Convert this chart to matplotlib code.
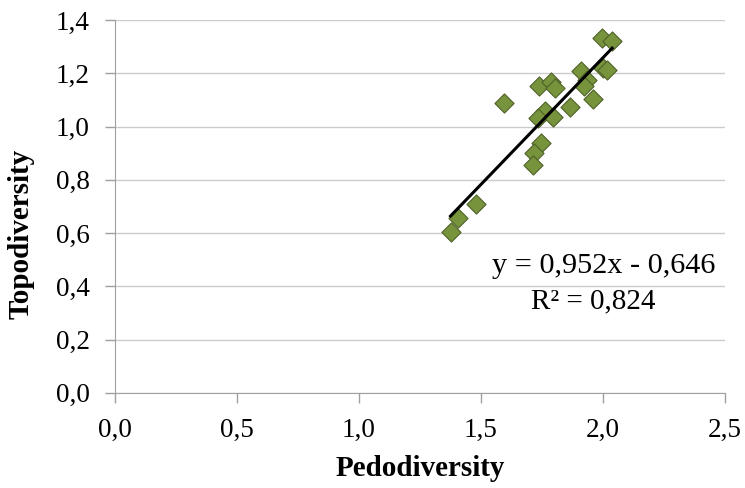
import numpy as np
import matplotlib.pyplot as plt
from matplotlib.ticker import FuncFormatter

# data
pedodiversity = [1.997, 2.038, 1.910, 2.001, 2.015, 1.937, 1.922, 1.739, 1.787, 1.805,
                 1.597, 1.960, 1.865, 1.764, 1.736, 1.796, 1.746, 1.716, 1.712, 1.480,
                 1.405, 1.376]
topodiversity = [1.331, 1.322, 1.210, 1.219, 1.212, 1.175, 1.153, 1.152, 1.168, 1.143,
                 1.087, 1.102, 1.072, 1.058, 1.033, 1.035, 0.937, 0.902, 0.855, 0.708,
                 0.657, 0.603]
slope = 0.952
intercept = -0.646
r2 = 0.824

plt.rcParams['font.family'] = ['Liberation Serif', 'DejaVu Serif']

fig = plt.figure(figsize=(7.45, 4.88), dpi=100)
ax = fig.add_axes([0.154, 0.195, 0.819, 0.764])

# grid lines
ax.yaxis.grid(True, color='#cccccc', linewidth=1.0)
ax.set_axisbelow(True)

ax.scatter(pedodiversity, topodiversity, marker='D', s=95, color='#77933c',
           edgecolor='#4f6228', linewidth=0.8, zorder=3)

# trend line
xl = np.array([min(pedodiversity), max(pedodiversity)])
ax.plot(xl, slope * xl + intercept, color='black', linewidth=2.2, zorder=4)

ax.text(2.004, 0.477, 'y = 0,952x - 0,646', ha='center', va='center', fontsize=21.8)
ax.text(1.961, 0.345, 'R² = 0,824', ha='center', va='center', fontsize=21)

ax.set_xlim(0, 2.5)
ax.set_ylim(0, 1.4)
ax.set_xticks(np.arange(0, 2.51, 0.5))
ax.set_yticks(np.arange(0, 1.41, 0.2))
ax.xaxis.set_major_formatter(FuncFormatter(lambda v, p: ('%.1f' % v).replace('.', ',')))
ax.yaxis.set_major_formatter(FuncFormatter(lambda v, p: ('%.1f' % v).replace('.', ',')))
ax.tick_params(labelsize=19.5, color='#a0a0a0', length=7, width=1, pad=11)

for s in ['top', 'right']:
    ax.spines[s].set_visible(False)
for s in ['left', 'bottom']:
    ax.spines[s].set_color('#a0a0a0')

ax.set_xlabel('Pedodiversity', fontsize=21, fontweight='bold')
ax.set_ylabel('Topodiversity', fontsize=21, fontweight='bold')
ax.xaxis.set_label_coords(0.5, -0.166)
ax.yaxis.set_label_coords(-0.131, 0.426)

fig.savefig('out.png', dpi=100)
